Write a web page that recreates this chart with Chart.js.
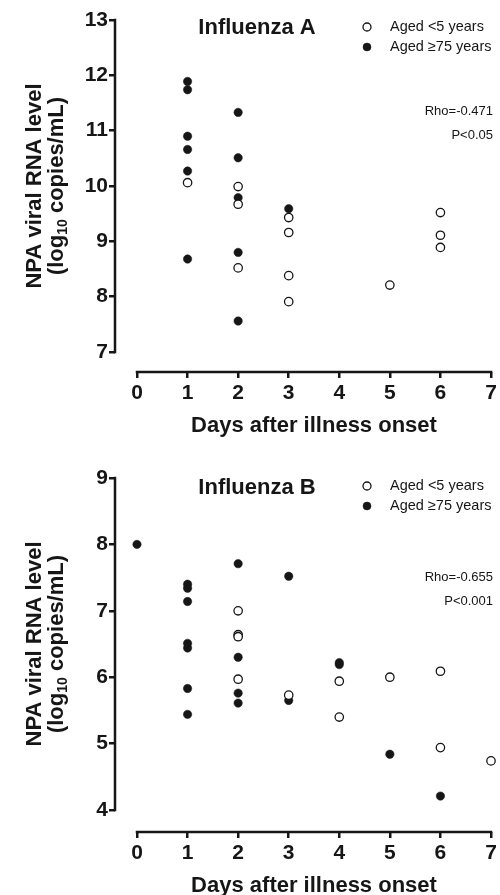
<!DOCTYPE html>
<html>
<head>
<meta charset="utf-8">
<script src="https://cdn.jsdelivr.net/npm/chart.js@4.4.0/dist/chart.umd.min.js"></script>
<style>
  html, body { margin: 0; padding: 0; background: #fff; }
  .box { position: relative; width: 500px; }
</style>
</head>
<body>
<div class="box" style="height:440px"><canvas id="fluA" width="500" height="440"></canvas></div>
<div class="box" style="height:455px"><canvas id="fluB" width="500" height="455"></canvas></div>
<script>
// dados (log10 copias/mL)
const xTicks = [0, 1, 2, 3, 4, 5, 6, 7];

const fluAYTicks = [7, 8, 9, 10, 11, 12, 13];
const fluAYoungDays = [1, 2, 2, 2, 3, 3, 3, 3, 5, 6, 6, 6];
const fluAYoung     = [10.06, 9.99, 9.67, 8.52, 9.43, 9.16, 8.38, 7.91, 8.21, 9.52, 9.11, 8.89];
const fluAOldDays   = [1, 1, 1, 1, 1, 1, 2, 2, 2, 2, 2, 3];
const fluAOld       = [11.89, 11.74, 10.90, 10.66, 10.27, 8.68, 11.33, 10.51, 9.79, 8.80, 7.56, 9.59];

const fluBYTicks = [4, 5, 6, 7, 8, 9];
const fluBYoungDays = [2, 2, 2, 2, 3, 4, 4, 5, 6, 6, 7];
const fluBYoung     = [7.00, 6.64, 6.61, 5.97, 5.73, 5.94, 5.40, 6.00, 6.09, 4.94, 4.74];
const fluBOldDays   = [0, 1, 1, 1, 1, 1, 1, 1, 2, 2, 2, 2, 3, 3, 4, 4, 5, 6];
const fluBOld       = [8.00, 7.40, 7.34, 7.14, 6.51, 6.44, 5.83, 5.44, 7.71, 6.30, 5.76, 5.61, 7.52, 5.65, 6.22, 6.19, 4.84, 4.21];

const legendLabels = ['Aged <5 years', 'Aged \u226575 years'];

const FONT = "'Liberation Sans', Arial, sans-serif";
const INK = '#161616';

const toPts = (xs, ys) => xs.map((d, i) => ({x: d, y: ys[i]}));

function makeChart(id, c) {
  const decor = {
    id: 'decor_' + id,
    afterDraw(chart) {
      const ctx = chart.ctx, a = chart.chartArea, x = chart.scales.x, y = chart.scales.y;
      ctx.save();
      // eixos separados estilo Prism
      ctx.strokeStyle = INK; ctx.lineWidth = 2.5;
      const yTop = y.getPixelForValue(c.yTicks[c.yTicks.length - 1]);
      const yBot = y.getPixelForValue(c.yTicks[0]);
      ctx.beginPath(); ctx.moveTo(a.left, yTop - 1.25); ctx.lineTo(a.left, yBot + 1.25); ctx.stroke();
      const xL = x.getPixelForValue(xTicks[0]), xR = x.getPixelForValue(xTicks[xTicks.length - 1]);
      ctx.beginPath(); ctx.moveTo(xL - 1.25, a.bottom); ctx.lineTo(xR + 1.25, a.bottom); ctx.stroke();

      ctx.fillStyle = INK;
      ctx.textBaseline = 'middle';
      // titulo do painel
      ctx.font = 'bold 22px ' + FONT; ctx.textAlign = 'center';
      ctx.fillText(c.title, 257, c.titleY);

      // legenda
      const ds = chart.data.datasets;
      ctx.font = '14.5px ' + FONT; ctx.textAlign = 'left';
      ds.forEach((d, i) => {
        const ly = c.legendY + i * 20;
        ctx.beginPath(); ctx.arc(367, ly, 4, 0, Math.PI * 2);
        ctx.fillStyle = d.pointBackgroundColor; ctx.fill();
        ctx.lineWidth = d.pointBorderWidth; ctx.strokeStyle = d.pointBorderColor; ctx.stroke();
        ctx.fillStyle = INK;
        ctx.fillText(d.label, 390, ly);
      });

      // estatistica
      ctx.font = '13px ' + FONT;
      ctx.textAlign = 'right';
      ctx.fillText(c.rho, 493, c.rhoY);
      ctx.fillText(c.p, 493, c.rhoY + 24);

      // titulo eixo x
      ctx.font = 'bold 22px ' + FONT; ctx.textAlign = 'center';
      ctx.fillText('Days after illness onset', (xL + xR) / 2, a.bottom + 54);

      // titulo eixo y (com subscrito)
      const midY = (yTop + yBot) / 2;
      ctx.save();
      ctx.translate(35, midY); ctx.rotate(-Math.PI / 2);
      ctx.fillText('NPA viral RNA level', 0, 0);
      ctx.restore();
      ctx.save();
      ctx.translate(57, midY); ctx.rotate(-Math.PI / 2);
      const p1 = '(log', sub = '10', p2 = ' copies/mL)';
      ctx.font = 'bold 22px ' + FONT;
      const w1 = ctx.measureText(p1).width, w3 = ctx.measureText(p2).width;
      ctx.font = 'bold 14px ' + FONT;
      const w2 = ctx.measureText(sub).width;
      let sx = -(w1 + w2 + w3) / 2;
      ctx.textAlign = 'left';
      ctx.font = 'bold 22px ' + FONT; ctx.fillText(p1, sx, 0); sx += w1;
      ctx.font = 'bold 14px ' + FONT; ctx.fillText(sub, sx, 6); sx += w2;
      ctx.font = 'bold 22px ' + FONT; ctx.fillText(p2, sx, 0);
      ctx.restore();
      ctx.restore();
    }
  };

  return new Chart(document.getElementById(id), {
    type: 'scatter',
    data: {
      datasets: [
        {label: legendLabels[0], data: toPts(c.youngDays, c.young), pointRadius: 4.2,
         pointBackgroundColor: '#ffffff', pointBorderColor: INK, pointBorderWidth: 1.3, clip: false},
        {label: legendLabels[1], data: toPts(c.oldDays, c.old), pointRadius: 4.2,
         pointBackgroundColor: INK, pointBorderColor: INK, pointBorderWidth: 0.5, clip: false}
      ]
    },
    options: {
      responsive: false, animation: false, events: [],
      layout: {padding: {top: c.padTop, right: 9, left: 0, bottom: 0}},
      plugins: {legend: {display: false}, tooltip: {enabled: false}},
      scales: {
        x: {
          type: 'linear', min: -0.435, max: 7,
          afterBuildTicks: s => { s.ticks = xTicks.map(v => ({value: v})); },
          afterFit: s => { s.height = c.xAxisH; },
          grid: {drawOnChartArea: false, drawTicks: true, tickLength: 6, lineWidth: 2.5, color: INK},
          border: {display: false},
          ticks: {font: {family: FONT, size: 21, weight: 'bold'}, color: INK, padding: 3, maxRotation: 0, autoSkip: false}
        },
        y: {
          type: 'linear', min: c.yMin, max: c.yMax,
          afterBuildTicks: s => { s.ticks = c.yTicks.map(v => ({value: v})); },
          afterFit: s => { s.width = 115; },
          grid: {drawOnChartArea: false, drawTicks: true, tickLength: 6, lineWidth: 2.5, color: INK},
          border: {display: false},
          ticks: {font: {family: FONT, size: 21, weight: 'bold'}, color: INK, padding: 1, autoSkip: false}
        }
      }
    },
    plugins: [decor]
  });
}

makeChart('fluA', {
  youngDays: fluAYoungDays, young: fluAYoung, oldDays: fluAOldDays, old: fluAOld,
  yTicks: fluAYTicks, yMin: 6.639, yMax: 13, padTop: 20, xAxisH: 68,
  title: 'Influenza A', titleY: 28, legendY: 27, rho: 'Rho=-0.471', p: 'P<0.05', rhoY: 111
});

makeChart('fluB', {
  youngDays: fluBYoungDays, young: fluBYoung, oldDays: fluBOldDays, old: fluBOld,
  yTicks: fluBYTicks, yMin: 3.669, yMax: 9, padTop: 38, xAxisH: 63,
  title: 'Influenza B', titleY: 48, legendY: 46, rho: 'Rho=-0.655', p: 'P<0.001', rhoY: 137
});
</script>
</body>
</html>
